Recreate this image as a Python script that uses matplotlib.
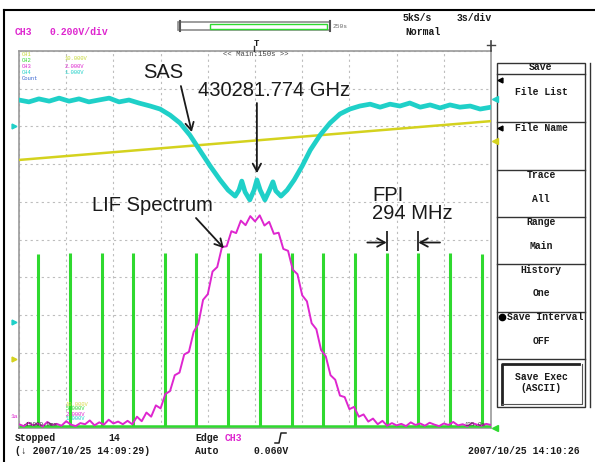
"""Oscilloscope capture: SAS, LIF spectrum and FPI markers (iodine, 430281.774 GHz)"""

import matplotlib
matplotlib.use("Agg")
import matplotlib.pyplot as plt
import matplotlib.patches as mpatches
import numpy as np

plt.rcParams["font.family"] = ["Liberation Sans", "DejaVu Sans"]

W, H = 595, 462
MONO = ["Liberation Mono", "DejaVu Sans Mono"]

# channel colours
C_SAS = "#1fd0c8"
C_RAMP = "#d4d21e"
C_LIF = "#de26cf"
C_FPI = "#2fd92f"
C_TXT = "#1a1a1a"

# --- traces, in screen divisions (10 x 10) ---
# saturated absorption (Doppler dip with three Lamb dips)
sas_x = [0.00, 0.21, 0.42, 0.64, 0.85, 1.06, 1.27, 1.48, 1.69, 1.91,
         2.12, 2.33, 2.54, 2.78, 2.99, 3.20, 3.41, 3.62, 3.83, 4.05,
         4.26, 4.43, 4.58, 4.66, 4.72, 4.79, 4.89, 4.98, 5.04, 5.11,
         5.21, 5.30, 5.38, 5.44, 5.55, 5.68, 5.83, 6.00, 6.17, 6.38,
         6.59, 6.80, 7.01, 7.22, 7.44, 7.65, 7.86, 8.07, 8.28, 8.50,
         8.71, 8.92, 9.13, 9.34, 9.56, 9.77, 10.0]
sas_y = [8.70, 8.65, 8.73, 8.67, 8.75, 8.67, 8.73, 8.65, 8.70, 8.75,
         8.65, 8.70, 8.62, 8.54, 8.46, 8.30, 8.09, 7.77, 7.37, 6.95,
         6.58, 6.31, 6.15, 6.31, 6.55, 6.26, 6.05, 6.31, 6.58, 6.31,
         6.05, 6.29, 6.53, 6.29, 6.15, 6.31, 6.58, 6.95, 7.37, 7.77,
         8.09, 8.33, 8.46, 8.54, 8.59, 8.51, 8.59, 8.54, 8.62, 8.51,
         8.57, 8.49, 8.57, 8.51, 8.54, 8.46, 8.51]

# laser scan ramp
ramp_x = [0.0, 10.0]
ramp_y = [7.11, 8.14]

# laser induced fluorescence, sampled every 0.1 div
lif_x = np.linspace(0, 10, 101)
lif_y = [0.10, 0.05, 0.14, 0.07, 0.12, 0.04, 0.16, 0.08, 0.11, 0.06,
         0.18, 0.09, 0.05, 0.13, 0.10, 0.20, 0.07, 0.15, 0.09, 0.22,
         0.12, 0.17, 0.10, 0.19, 0.10, 0.30, 0.18, 0.41, 0.30, 0.60,
         0.52, 0.90, 0.98, 1.40, 1.47, 1.95, 2.02, 2.55, 2.76, 3.40,
         3.55, 4.15, 4.27, 4.80, 4.82, 5.22, 5.17, 5.50, 5.38, 5.62,
         5.48, 5.64, 5.37, 5.47, 5.15, 5.18, 4.75, 4.70, 4.20, 4.08,
         3.52, 3.36, 2.78, 2.62, 2.07, 1.90, 1.40, 1.28, 0.86, 0.82,
         0.50, 0.56, 0.30, 0.36, 0.17, 0.25, 0.10, 0.19, 0.06, 0.13,
         0.07, 0.11, 0.05, 0.15, 0.08, 0.12, 0.06, 0.14, 0.09, 0.05,
         0.12, 0.08, 0.16, 0.07, 0.10, 0.05, 0.13, 0.09, 0.06, 0.11,
         0.08]

# Fabry-Perot transmission peaks (294 MHz FSR)
fpi_x = [0.40, 1.07, 1.75, 2.42, 3.09, 3.76, 4.43, 5.10, 5.78, 6.45,
         7.12, 7.79, 8.46, 9.14, 9.81]
fpi_top = [4.62, 4.64, 4.63, 4.65, 4.64, 4.63, 4.64, 4.65, 4.64, 4.63,
           4.64, 4.64, 4.63, 4.64, 4.62]
fpi_base = 0.05

fig = plt.figure(figsize=(W / 100, H / 100), dpi=100)
fig.patch.set_facecolor("white")

# === waveform area ===
ax = fig.add_axes([19 / W, (H - 428) / H, 472 / W, 377 / H])
ax.set_xlim(0, 10)
ax.set_ylim(0, 10)
ax.set_xticks(np.arange(0, 11))
ax.set_yticks(np.arange(0, 11))
ax.tick_params(length=0, labelbottom=False, labelleft=False)
ax.grid(True, color="#bdbdbd", linestyle=(0, (2, 3)), linewidth=0.8)
for sp in ax.spines.values():
    sp.set_color("#9a9a9a")
    sp.set_linewidth(1.2)

ax.plot(ramp_x, ramp_y, color=C_RAMP, lw=1.8, zorder=3)
ax.plot(sas_x, sas_y, color=C_SAS, lw=3.4, zorder=4, solid_joinstyle="round")
ax.hlines(fpi_base, 0, 10, color=C_FPI, lw=1.8, zorder=5)
ax.vlines(fpi_x, fpi_base, fpi_top, color=C_FPI, lw=2.2, zorder=5)
ax.plot(lif_x, lif_y, color=C_LIF, lw=1.4, zorder=6)

# === labels and arrows ===
arw = dict(arrowstyle="->,head_length=0.55,head_width=0.3", color=C_TXT, lw=1.3,
           shrinkA=0, shrinkB=0)
ax.text(3.05, 9.42, "SAS", fontsize=14.5, ha="center", va="center", color=C_TXT, zorder=8)
ax.annotate("", xy=(3.66, 7.85), xytext=(3.43, 9.07), arrowprops=arw, zorder=8)
ax.text(5.40, 8.94, "430281.774 GHz", fontsize=14.5, ha="center", va="center",
        color=C_TXT, zorder=8)
ax.annotate("", xy=(5.04, 6.76), xytext=(5.04, 8.62), arrowprops=arw, zorder=8)
ax.text(2.82, 5.89, "LIF Spectrum", fontsize=14.5, ha="center", va="center",
        color=C_TXT, zorder=8)
ax.annotate("", xy=(4.34, 4.77), xytext=(3.75, 5.57), arrowprops=arw, zorder=8)
ax.text(7.48, 5.93, "FPI\n294 MHz", fontsize=14.5, ha="left", va="center",
        linespacing=0.92, color=C_TXT, zorder=8)
ax.vlines([fpi_x[11], fpi_x[12]], 4.70, 5.22, color="#333333", lw=1.4, zorder=8)
ax.annotate("", xy=(fpi_x[11], 4.92), xytext=(7.38, 4.92), arrowprops=arw, zorder=8)
ax.annotate("", xy=(fpi_x[12], 4.92), xytext=(8.92, 4.92), arrowprops=arw, zorder=8)

# === scope screen furniture (pixel coordinates) ===
ov = fig.add_axes([0, 0, 1, 1])
ov.set_xlim(0, W)
ov.set_ylim(H, 0)
ov.axis("off")
ov.patch.set_alpha(0)

# outer frame
ov.plot([4, W], [10, 10], color="black", lw=1.5)
ov.plot([4, 4], [10, H], color="black", lw=1.5)


def mono(x, y, s, size=7, color=C_TXT, ha="left", weight="bold"):
    ov.text(x, y, s, fontsize=size, family=MONO, color=color, ha=ha, va="center",
            fontweight=weight)


# header
mono(15, 32, "CH3", color=C_LIF)
mono(50, 32, "0.200V/div", color=C_LIF)
mono(403, 18, "5kS/s")
mono(457, 18, "3s/div")
mono(405, 32, "Normal")
ov.add_patch(mpatches.Rectangle((178, 22), 152, 8, fill=False, ec="#8c8c8c", lw=1.2))
ov.add_patch(mpatches.Rectangle((210, 23.5), 117, 5, fill=False, ec=C_FPI, lw=1.0))
ov.plot([180, 180], [21, 31], color="#555555", lw=1.5)
ov.plot([330, 330], [21, 31], color="#555555", lw=1.5)
mono(333, 26, "250s", size=4.5, weight="normal", color="#666666")
mono(254, 44, "T", size=6.5)
ov.plot([254, 254], [46, 51], color="#333333", lw=1)
mono(256, 55, "<< Main:150s >>", size=5.2, ha="center", weight="normal", color="#444444")
ov.plot([491, 491], [41, 51], color="#444444", lw=1.2)
ov.plot([487, 495], [45, 45], color="#444444", lw=1.0)

# channel readouts inside the screen
for s, c, yy in [("CH1", "#c6d83a", 55), ("CH2", C_FPI, 61), ("CH3", C_LIF, 67),
                 ("CH4", C_SAS, 73), ("Count", "#3a66d0", 79)]:
    mono(22, yy, s, size=4.0, color=c, weight="normal")
for s, c, yy in [("10.000V", "#c6d83a", 59), ("2.000V", C_LIF, 66), ("1.000V", C_SAS, 72)]:
    mono(65, yy, s, size=4.0, color=c, weight="normal")
for s, c, yy in [("10.000V", "#d8d84a", 404), ("5.000V", C_FPI, 409),
                 ("2.000V", C_LIF, 414), ("1.000V", C_SAS, 419)]:
    mono(66, yy, s, size=4.0, color=c, weight="normal")
mono(22, 425, "-15000.0ms", size=4.2, weight="normal", color="#333333")
mono(486, 425, "135.0s", size=4.2, weight="normal", color="#333333", ha="right")

# level markers at screen edges
ov.plot(14, 126, marker=">", ms=3.5, color=C_SAS)
ov.plot(14, 322, marker=">", ms=3.5, color=C_SAS)
ov.plot(14, 359, marker=">", ms=3.5, color=C_RAMP)
mono(10, 417, "1a", size=4.5, color=C_LIF, weight="normal")
ov.plot(495, 99, marker="<", ms=4, color=C_SAS)
ov.plot(495, 141, marker="<", ms=4, color=C_RAMP)
ov.plot(495, 428, marker="<", ms=4, color=C_FPI)

# softkey menu on the right
ov.add_patch(mpatches.Rectangle((497, 63), 88, 344, fill=False, ec="#333333", lw=1.0))
ov.plot([590, 590], [63, 407], color="#333333", lw=1.0)
for yy in [74, 122, 170, 217, 264, 312, 359]:
    ov.plot([497, 585], [yy, yy], color="#333333", lw=1.0)
ov.plot([502, 502, 579], [404, 364, 364], color="#222222", lw=2.0)
ov.plot([502, 582, 582], [404, 404, 364], color="#555555", lw=0.8)
ov.plot(500, 80, marker="<", ms=3.5, color="black")
ov.plot(500, 128, marker="<", ms=3.5, color="black")
ov.plot(502, 317, marker="o", ms=4.5, color="black")
menu = [("Save", 67), ("File List", 92), ("File Name", 128), ("Trace", 175),
        ("All", 199), ("Range", 222), ("Main", 246), ("History", 270),
        ("One", 293), ("Save Interval", 317), ("OFF", 341),
        ("Save Exec", 377), ("(ASCII)", 388)]
for s, yy in menu:
    mono(545 if s == "Save Interval" else 541, yy, s, ha="center")

# status line
mono(15, 438, "Stopped")
mono(108, 438, "14")
mono(195, 438, "Edge")
mono(225, 438, "CH3", color=C_LIF)
ov.plot([275, 279, 281, 286], [443, 443, 433, 433], color="#222222", lw=1.1)
mono(15, 451, "(\u2193 2007/10/25 14:09:29)")
mono(195, 451, "Auto")
mono(253, 451, "0.060V")
mono(468, 451, "2007/10/25 14:10:26")

fig.savefig("out.png", dpi=100, facecolor="white")
plt.close(fig)
